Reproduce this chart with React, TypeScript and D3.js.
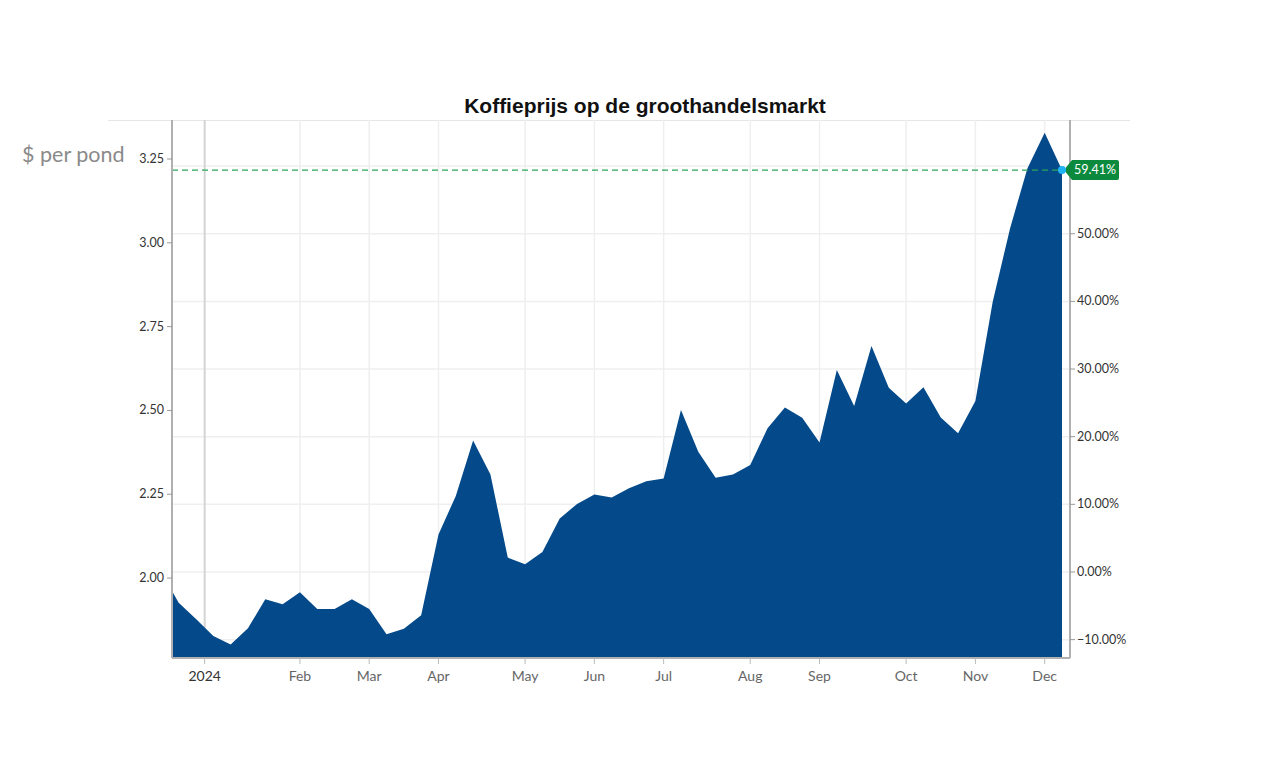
import React from "react";
import * as d3 from "d3";

// weekly wholesale coffee price, $ per pound (first value is the reference for % change)
const startDate = "2023-12-11";
const prices: number[] = [
  2.0181, 1.926, 1.878, 1.827, 1.802, 1.85, 1.937, 1.922, 1.958, 1.908, 1.908,
  1.937, 1.908, 1.832, 1.849, 1.889, 2.13, 2.245, 2.41, 2.309, 2.061, 2.041,
  2.078, 2.178, 2.221, 2.249, 2.24, 2.268, 2.289, 2.297, 2.501, 2.377, 2.299,
  2.309, 2.337, 2.447, 2.509, 2.478, 2.404, 2.621, 2.513, 2.692, 2.568, 2.521,
  2.569, 2.479, 2.432, 2.528, 2.824, 3.043, 3.222, 3.328, 3.217,
];
const xTickLabels = ["2024", "Feb", "Mar", "Apr", "May", "Jun", "Jul", "Aug", "Sep", "Oct", "Nov", "Dec"];
const xTickIndex = [2.5, 8, 12, 16, 21, 25, 29, 34, 38, 43, 47, 51];
const leftTicks = [2.0, 2.25, 2.5, 2.75, 3.0, 3.25];
const rightGrid = [-10, 0, 10, 20, 30, 40, 50, 60];
const rightTicks = [-10, 0, 10, 20, 30, 40, 50];
const xDomain = [0.614, 52];
const yDomain = [1.7615, 3.3664];

const W = 1263, H = 767;
const L = 172, R = 1062, T = 120, B = 658, RA = 1070;
const labelFont = "Lato, 'Open Sans', sans-serif";

export default function App() {
  const base = prices[0];
  const x = d3.scaleLinear().domain(xDomain).range([L, R]);
  const y = d3.scaleLinear().domain(yDomain).range([B, T]);
  const pct = d3
    .scaleLinear()
    .domain(yDomain.map((v) => (v / base - 1) * 100))
    .range([B, T]);
  const area = d3
    .area<number>()
    .x((_, i) => x(i))
    .y0(B)
    .y1((d) => y(d));
  const last = prices[prices.length - 1];
  const lastPct = (last / base - 1) * 100;
  const lx = x(prices.length - 1);
  const ly = y(last);
  void startDate;

  return (
    <div style={{ position: "absolute", left: 0, top: 0 }}>
      <svg width={W} height={H} style={{ display: "block", background: "#fff" }}>
        <defs>
          <clipPath id="plot">
            <rect x={L} y={T} width={R - L} height={B - T} />
          </clipPath>
        </defs>
        {/* top border */}
        <line x1={108} x2={1130} y1={T + 0.5} y2={T + 0.5} stroke="#e6e6e6" />
        {/* horizontal grid from right axis */}
        {rightGrid.map((t) => (
          <line key={"hg" + t} x1={L} x2={RA} y1={pct(t)} y2={pct(t)} stroke="#efefef" strokeWidth={1.5} />
        ))}
        {/* vertical grid */}
        {xTickIndex.map((t, i) => (
          <line
            key={"vg" + i}
            x1={x(t)}
            x2={x(t)}
            y1={T}
            y2={B}
            stroke={i === 0 ? "#d4d4d4" : "#efefef"}
            strokeWidth={i === 0 ? 2 : 1.5}
          />
        ))}
        <path d={area(prices) || ""} fill="#044a8b" clipPath="url(#plot)" />
        {/* dashed last value line */}
        <line x1={L} x2={lx} y1={ly} y2={ly} stroke="#2aa55a" strokeWidth={1.2} strokeDasharray="6,4" />
        {/* axes */}
        <line x1={L} x2={L} y1={T} y2={B} stroke="#b0b0b0" strokeWidth={2} />
        <line x1={RA} x2={RA} y1={T} y2={B} stroke="#b0b0b0" strokeWidth={2} />
        <line x1={L} x2={RA} y1={B} y2={B} stroke="#b0b0b0" strokeWidth={2} />
        {leftTicks.map((t) => (
          <g key={"lt" + t}>
            <line x1={L - 5} x2={L} y1={y(t)} y2={y(t)} stroke="#999" />
            <text x={L - 8} y={y(t) + 4} textAnchor="end" fontSize={12.5} fill="#333" fontFamily={labelFont}>
              {d3.format(".2f")(t)}
            </text>
          </g>
        ))}
        {rightGrid.map((t) => (
          <line key={"rtk" + t} x1={RA} x2={RA + 5} y1={pct(t)} y2={pct(t)} stroke="#999" />
        ))}
        {rightTicks.map((t) => (
          <text key={"rt" + t} x={RA + 7} y={pct(t) + 4} fontSize={12.5} fill="#333" fontFamily={labelFont}>
            {d3.format(".2f")(t) + "%"}
          </text>
        ))}
        {xTickLabels.map((lab, i) => (
          <g key={"xt" + lab}>
            <line x1={x(xTickIndex[i])} x2={x(xTickIndex[i])} y1={B} y2={B + 6} stroke="#bbb" />
            <text
              x={x(xTickIndex[i])}
              y={B + 23}
              textAnchor="middle"
              fontSize={14}
              fill={i === 0 ? "#333" : "#666"}
              fontFamily={labelFont}
            >
              {lab}
            </text>
          </g>
        ))}
        {/* last value badge */}
        <path
          d={`M${lx + 2},${ly} L${lx + 10},${ly - 10} L${lx + 55},${ly - 10} Q${lx + 57},${ly - 10} ${lx + 57},${ly - 8} L${lx + 57},${ly + 8} Q${lx + 57},${ly + 10} ${lx + 55},${ly + 10} L${lx + 10},${ly + 10} Z`}
          fill="#0b8a3d"
        />
        <text x={lx + 12} y={ly + 4} fontSize={12.5} fill="#fff" fontFamily={labelFont}>
          {d3.format(".2f")(lastPct) + "%"}
        </text>
        <circle cx={lx} cy={ly} r={4} fill="#1fb3f5" />
        {/* titles */}
        <text x={22} y={162} fontSize={21.5} fill="#8a8a8a" fontFamily={labelFont}>
          $ per pond
        </text>
        <text
          x={645}
          y={113}
          textAnchor="middle"
          fontSize={21}
          fontWeight="bold"
          fill="#111"
          fontFamily="'Liberation Sans Narrow', 'Arial Narrow', sans-serif"
        >
          Koffieprijs op de groothandelsmarkt
        </text>
      </svg>
    </div>
  );
}
